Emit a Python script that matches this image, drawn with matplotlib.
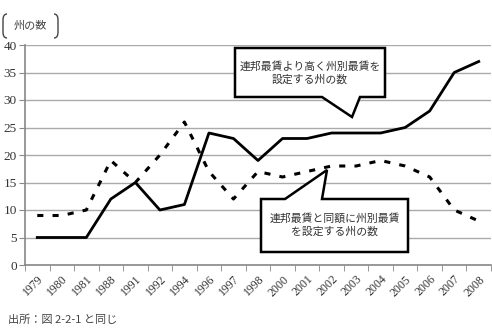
import numpy as np
import matplotlib
matplotlib.use('Agg')
import matplotlib.pyplot as plt
from matplotlib.patches import Polygon, PathPatch
from matplotlib.path import Path

plt.rcParams['font.family'] = ['Noto Sans CJK JP', 'DejaVu Sans']

years = ['1979', '1980', '1981', '1988', '1991', '1992', '1994', '1996', '1997', '1998',
         '2000', '2001', '2002', '2003', '2004', '2005', '2006', '2007', '2008']
higher = [5, 5, 5, 12, 15, 10, 11, 24, 23, 19, 23, 23, 24, 24, 24, 25, 28, 35, 37]
same = [9, 9, 10, 19, 15, 20, 26, 17, 12, 17, 16, 17, 18, 18, 19, 18, 16, 10, 8]

label_higher = '連邦最賃より高く州別最賃を\n設定する州の数'
label_same = '連邦最賃と同額に州別最賃\nを設定する州の数'
y_title = '州の数'
source = '出所：図 2-2-1 と同じ'

W, H = 492, 328
fig = plt.figure(figsize=(W / 100, H / 100), dpi=100)
ax = fig.add_axes([25 / W, 1 - 265 / H, (491 - 25) / W, 220 / H])

def px(x, y):
    # pixel coords (top-left origin) -> figure fraction
    return (x / W, 1 - y / H)

x = np.arange(len(years))
ax.plot(x, higher, color='black', lw=2.0, zorder=3)
ln, = ax.plot(x, same, color='black', lw=2.2, zorder=3)
ln.set_dashes([2.0, 3.0])

ax.set_xlim(-0.5, len(years) - 0.5)
ax.set_ylim(0, 40)
ax.set_yticks(range(0, 41, 5))
ax.yaxis.grid(True, color='#aaaaaa', lw=1)
ax.set_axisbelow(True)

ax.set_xticks(x)
ax.set_xticklabels(years, rotation=45, ha='right', rotation_mode='anchor',
                   family='Liberation Serif', fontsize=8.5, color='#333333')
ax.set_xticks(np.arange(len(years) + 1) - 0.5, minor=True)
ax.tick_params(axis='x', which='major', length=0, pad=6)
ax.tick_params(axis='x', which='minor', length=4, color='#888888', direction='out')
ax.tick_params(axis='y', length=4, color='#888888', direction='out', pad=2)
for t in ax.get_yticklabels():
    t.set_family('Liberation Serif')
    t.set_fontsize(9.5)
    t.set_color('#333333')

for s in ['top', 'right']:
    ax.spines[s].set_visible(False)
for s in ['left', 'bottom']:
    ax.spines[s].set_color('#888888')
    ax.spines[s].set_linewidth(1.2)

# callout 1
pts1 = [px(235, 48), px(385, 48), px(385, 97), px(360, 97), px(352, 117),
        px(322, 97), px(235, 97)]
fig.patches.append(Polygon(pts1, closed=True, transform=fig.transFigure,
                           facecolor='white', edgecolor='black', lw=1.8, zorder=5))
fig.text(*px(310, 73), label_higher, ha='center', va='center', fontsize=7.8,
         linespacing=1.35, color='#333333', zorder=6)

# callout 2
pts2 = [px(261, 199), px(285, 199), px(327, 170), px(322, 199), px(408, 199),
        px(408, 252), px(261, 252)]
fig.patches.append(Polygon(pts2, closed=True, transform=fig.transFigure,
                           facecolor='white', edgecolor='black', lw=1.8, zorder=5))
fig.text(*px(335, 225), label_same, ha='center', va='center', fontsize=7.8,
         linespacing=1.35, color='#333333', zorder=6)

# y title with brackets
fig.text(*px(30, 26), y_title, ha='center', va='center', fontsize=8, color='#444444')
for xs, sgn in [(3, 1), (58, -1)]:
    verts = [px(xs + 4 * sgn, 14), px(xs, 14), px(xs, 20), px(xs, 32),
             px(xs, 38), px(xs + 4 * sgn, 38)]
    codes = [Path.MOVETO, Path.CURVE3, Path.CURVE3, Path.LINETO, Path.CURVE3, Path.CURVE3]
    fig.patches.append(PathPatch(Path(verts, codes), transform=fig.transFigure,
                                 facecolor='none', edgecolor='#444444', lw=1.0))

fig.text(*px(8, 315), source, ha='left', va='top', fontsize=8, color='#444444')

fig.savefig('out.png', dpi=100)
